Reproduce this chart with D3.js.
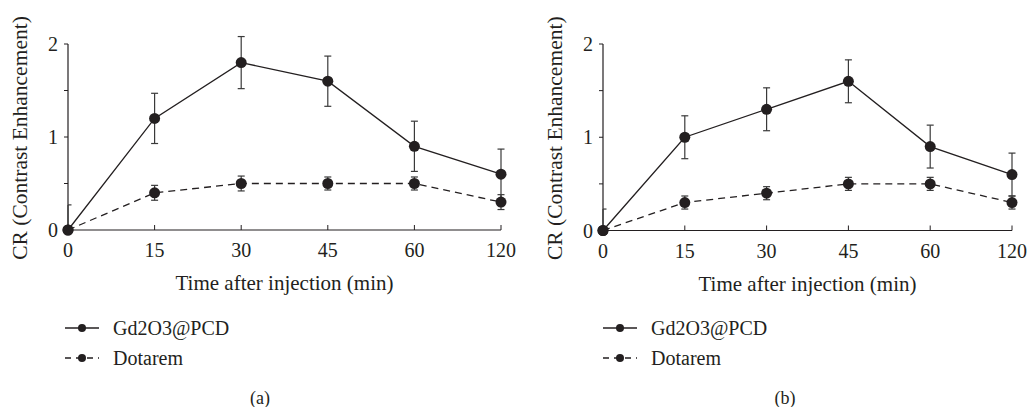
<!DOCTYPE html>
<html>
<head>
<meta charset="utf-8">
<script src="https://cdn.jsdelivr.net/npm/d3@7"></script>
<style>
  body { margin: 0; background: #fff; }
  svg text { font-family: "Liberation Serif", "DejaVu Serif", serif; fill: #231f20; }
</style>
</head>
<body>
<svg id="chart" width="1028" height="407"></svg>
<script>
const times = ['0', '15', '30', '45', '60', '120'];
const yTicks = [0, 1, 2];
const yMinorTicks = [0, 0.5, 1, 1.5, 2];
const seriesNames = ['Gd2O3@PCD', 'Dotarem'];

// panel (a)
const gdA = [0, 1.2, 1.8, 1.6, 0.9, 0.6];
const gdErrA = [0.27, 0.27, 0.28, 0.27, 0.27, 0.27];
const dotA = [0, 0.4, 0.5, 0.5, 0.5, 0.3];
const dotErrA = [0, 0.08, 0.08, 0.07, 0.07, 0.08];

// panel (b)
const gdB = [0, 1.0, 1.3, 1.6, 0.9, 0.6];
const gdErrB = [0.23, 0.23, 0.23, 0.23, 0.23, 0.23];
const dotB = [0, 0.3, 0.4, 0.5, 0.5, 0.3];
const dotErrB = [0, 0.07, 0.07, 0.07, 0.07, 0.07];

const svg = d3.select('#chart');
const ink = '#231f20';

function drawPanel(opts) {
    const x = d3.scalePoint().domain(times).range([opts.x0, opts.x1]);
    const y = d3.scaleLinear().domain([0, 2]).range([opts.yBottom, opts.yTop]);
    const g = svg.append('g');

    // y axis: line + outward ticks every 0.5
    g.append('line')
        .attr('x1', opts.x0).attr('x2', opts.x0)
        .attr('y1', y(0)).attr('y2', y(2))
        .attr('stroke', ink).attr('stroke-width', 1.2);
    g.selectAll('.ymt').data(yMinorTicks).enter().append('line')
        .attr('x1', opts.x0 - 4).attr('x2', opts.x0)
        .attr('y1', d => y(d)).attr('y2', d => y(d))
        .attr('stroke', ink).attr('stroke-width', 1);
    g.selectAll('.ytl').data(yTicks).enter().append('text')
        .attr('x', opts.x0 - 10).attr('y', d => y(d))
        .attr('dy', '0.35em')
        .attr('text-anchor', 'end')
        .style('font-size', '20px')
        .text(d => d);

    // x axis: line + inward ticks
    g.append('line')
        .attr('x1', opts.x0).attr('x2', opts.x1)
        .attr('y1', y(0)).attr('y2', y(0))
        .attr('stroke', ink).attr('stroke-width', 1.2);
    g.selectAll('.xt').data(times).enter().append('line')
        .attr('x1', d => x(d)).attr('x2', d => x(d))
        .attr('y1', y(0)).attr('y2', y(0) - 5)
        .attr('stroke', ink).attr('stroke-width', 1);
    g.selectAll('.xtl').data(times).enter().append('text')
        .attr('x', d => x(d)).attr('y', y(0) + 27)
        .attr('text-anchor', 'middle')
        .style('font-size', '20px')
        .text(d => d);

    g.append('text')
        .attr('x', (opts.x0 + opts.x1) / 2).attr('y', y(0) + 60)
        .attr('text-anchor', 'middle')
        .style('font-size', '21px')
        .text('Time after injection (min)');

    g.append('text')
        .attr('transform', `translate(${opts.x0 - 41},${(y(0) + y(2)) / 2 + 1}) rotate(-90)`)
        .attr('text-anchor', 'middle')
        .style('font-size', '21.5px')
        .text('CR (Contrast Enhancement)');

    const series = [
        { vals: opts.gd, errs: opts.gdErr, dash: null },
        { vals: opts.dot, errs: opts.dotErr, dash: '7,5' }
    ];

    const line = d3.line().x((d, i) => x(times[i])).y(d => y(d));

    series.forEach(s => {
        // error bars
        const eb = g.append('g');
        s.vals.forEach((v, i) => {
            const e = s.errs[i];
            if (!e) return;
            const cx = x(times[i]);
            const lo = Math.max(0, v - e), hi = v + e;
            eb.append('line')
                .attr('x1', cx).attr('x2', cx)
                .attr('y1', y(lo)).attr('y2', y(hi))
                .attr('stroke', '#3a3a3a').attr('stroke-width', 1.2);
            [hi, v - e].forEach(yy => {
                if (yy < 0) return;
                eb.append('line')
                    .attr('x1', i === 0 ? cx : cx - 3.5).attr('x2', cx + 3.5)
                    .attr('y1', y(yy)).attr('y2', y(yy))
                    .attr('stroke', '#3a3a3a').attr('stroke-width', 1.2);
            });
        });
        g.append('path')
            .datum(s.vals)
            .attr('d', line)
            .attr('fill', 'none')
            .attr('stroke', ink)
            .attr('stroke-width', 1.3)
            .attr('stroke-dasharray', s.dash);
        g.selectAll(null).data(s.vals).enter().append('circle')
            .attr('cx', (d, i) => x(times[i]))
            .attr('cy', d => y(d))
            .attr('r', 5.5)
            .attr('fill', ink);
    });

    // legend
    const lg = g.append('g');
    seriesNames.forEach((name, i) => {
        const ly = opts.legendY + i * 30;
        lg.append('line')
            .attr('x1', opts.legendX).attr('x2', opts.legendX + 34)
            .attr('y1', ly).attr('y2', ly)
            .attr('stroke', ink).attr('stroke-width', 1.3)
            .attr('stroke-dasharray', i === 1 ? '6,5' : null);
        lg.append('circle')
            .attr('cx', opts.legendX + 17).attr('cy', ly)
            .attr('r', 4).attr('fill', ink);
        lg.append('text')
            .attr('x', opts.legendX + 48).attr('y', ly)
            .attr('dy', '0.35em')
            .style('font-size', '20px')
            .text(name);
    });

    g.append('text')
        .attr('x', opts.labelX).attr('y', 404)
        .attr('text-anchor', 'middle')
        .style('font-size', '18px')
        .text(opts.label);
}

drawPanel({
    x0: 68, x1: 501, yBottom: 230, yTop: 44,
    gd: gdA, gdErr: gdErrA, dot: dotA, dotErr: dotErrA,
    legendX: 65, legendY: 328, labelX: 260, label: '(a)'
});

drawPanel({
    x0: 603, x1: 1012, yBottom: 230.5, yTop: 44,
    gd: gdB, gdErr: gdErrB, dot: dotB, dotErr: dotErrB,
    legendX: 603, legendY: 328, labelX: 785, label: '(b)'
});
</script>
</body>
</html>
